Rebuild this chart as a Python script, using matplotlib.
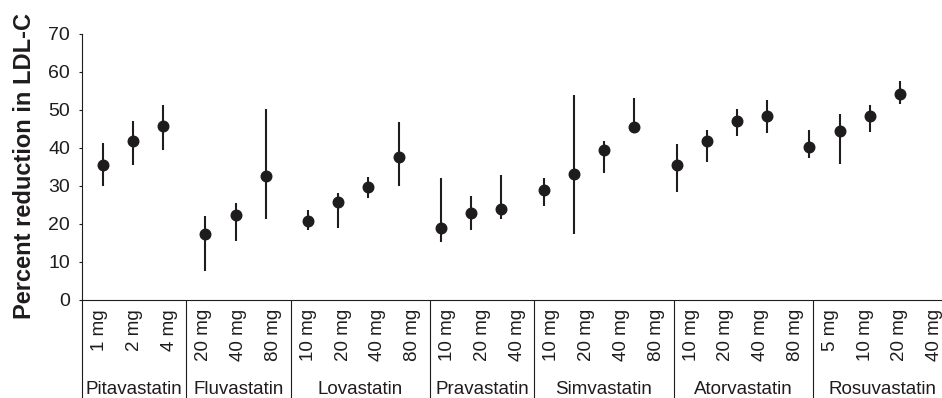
"""Percent reduction in LDL-C by statin and dose."""

import matplotlib

matplotlib.use("Agg")

import matplotlib.pyplot as plt

plt.rcParams["font.family"] = ["Liberation Sans", "DejaVu Sans"]

drugs = [
    "Pitavastatin", "Fluvastatin", "Lovastatin", "Pravastatin",
    "Simvastatin", "Atorvastatin", "Rosuvastatin",
]
doses = [
    ["1 mg", "2 mg", "4 mg"],
    ["20 mg", "40 mg", "80 mg"],
    ["10 mg", "20 mg", "40 mg", "80 mg"],
    ["10 mg", "20 mg", "40 mg"],
    ["10 mg", "20 mg", "40 mg", "80 mg"],
    ["10 mg", "20 mg", "40 mg", "80 mg"],
    ["5 mg", "10 mg", "20 mg", "40 mg"],
]
# point estimate and range ends, one entry per dose in reading order
reduction = [
    35.5, 41.8, 45.8,
    17.4, 22.3, 32.7,
    20.8, 25.7, 29.8, 37.7,
    19.0, 22.8, 24.0,
    28.9, 33.2, 39.6, 45.5,
    35.6, 41.8, 47.1, 48.4,
    40.2, 44.6, 48.3, 54.1,
]
range_low = [
    30.1, 35.5, 39.6,
    7.7, 15.6, 21.3,
    18.4, 18.9, 26.8, 30.1,
    15.2, 18.4, 21.3,
    24.7, 17.3, 33.3, 44.7,
    28.4, 36.2, 43.2, 44.0,
    37.5, 35.8, 44.1, 51.5,
]
range_high = [
    41.4, 47.2, 51.3,
    22.0, 25.4, 50.2,
    23.7, 28.2, 32.4, 46.8,
    32.0, 27.5, 32.9,
    32.0, 53.9, 41.9, 53.1,
    41.1, 44.7, 50.2, 52.6,
    44.7, 48.9, 51.3, 57.6,
]

INK = "#1f1c1d"
GROUP_GAP = 0.4

# x position of each point: running index plus a small gap per drug group
group_of = []
for group, group_doses in enumerate(doses):
    for _ in group_doses:
        group_of.append(group)
positions = [index + GROUP_GAP * group for index, group in enumerate(group_of)]

fig = plt.figure(figsize=(9.42, 3.98), dpi=100)
left, width = 82 / 942, 870 / 942
axis = fig.add_axes([left, 98 / 398, width, 266 / 398])
table = fig.add_axes([left, 0, width, 98 / 398])

lower_err = [value - low for value, low in zip(reduction, range_low)]
upper_err = [high - value for value, high in zip(reduction, range_high)]
axis.errorbar(
    positions,
    reduction,
    yerr=[lower_err, upper_err],
    fmt="o",
    markersize=7.6,
    color=INK,
    ecolor=INK,
    elinewidth=1.5,
    capsize=0,
    zorder=3,
)
axis.set_xlim(-0.685, 28.12)
axis.set_ylim(0, 70)
axis.set_yticks(range(0, 71, 10))
axis.tick_params(axis="y", length=2.5, width=0.8, pad=6, labelsize=14, colors=INK)
axis.set_xticks([])
for side in ("top", "right"):
    axis.spines[side].set_visible(False)
for side in ("left", "bottom"):
    axis.spines[side].set_linewidth(0.8)
    axis.spines[side].set_color(INK)

fig.text(
    36.5 / 942,
    1 - 166 / 398,
    "Percent reduction in LDL-C",
    rotation=90,
    ha="right",
    va="center",
    fontsize=17,
    fontweight="bold",
    color=INK,
)

# label table under the axis: one slot per dose, drug names below
flat_doses = [label for group_doses in doses for label in group_doses]
table.set_xlim(-0.5, len(flat_doses) - 0.5)
table.set_ylim(0, 98)
table.set_xticks([])
table.set_yticks([])
for side in ("top", "right", "bottom"):
    table.spines[side].set_visible(False)
table.spines["left"].set_linewidth(0.8)
table.spines["left"].set_color(INK)
table.patch.set_alpha(0)

for slot, label in enumerate(flat_doses):
    table.text(
        slot, 89, label, rotation=90, ha="center", va="top",
        fontsize=13.5, color=INK,
    )
start = 0
for group, name in enumerate(drugs):
    count = len(doses[group])
    table.text(
        start + (count - 1) / 2, 0.5, name, ha="center", va="bottom",
        fontsize=13.5, color=INK,
    )
    start += count
    if group < len(drugs) - 1:
        table.axvline(start - 0.5, color=INK, linewidth=0.8)

fig.savefig("out.png", dpi=100)
